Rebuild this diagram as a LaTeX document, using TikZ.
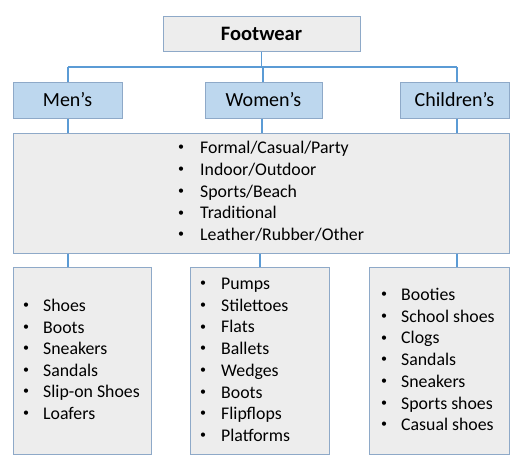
\documentclass[tikz,border=0pt]{standalone}
\usepackage{fontspec}
\setmainfont{Carlito}
\definecolor{lineblue}{HTML}{5B9BD5}
\definecolor{boxedge}{HTML}{8EA9C8}
\definecolor{boxgray}{HTML}{EDEDED}
\definecolor{boxblue}{HTML}{BDD7EE}
\begin{document}
\begin{tikzpicture}[x=1pt,y=-1pt,
  graybox/.style={draw=boxedge,fill=boxgray,line width=1pt,inner sep=0pt},
  bluebox/.style={draw=boxedge,fill=boxblue,line width=1pt,inner sep=0pt},
  conn/.style={draw=lineblue,line width=1.8pt},
  item/.style={anchor=base west,inner sep=0pt,font=\fontsize{17.8}{21}\selectfont},
  bul/.style={anchor=center,inner sep=0pt,font=\fontsize{12}{14}\selectfont}]
\useasboundingbox (0,0) rectangle (522,466);
% boxes
\node[graybox,minimum width=197pt,minimum height=35pt,font=\fontsize{20.5}{24}\selectfont\bfseries] (top) at (261.5,33.5) {Footwear};
\node[bluebox,minimum width=109pt,minimum height=36pt,font=\fontsize{20}{24}\selectfont] (men) at (67.5,100) {Men’s};
\node[bluebox,minimum width=117pt,minimum height=36pt,font=\fontsize{20}{24}\selectfont] (women) at (263.5,100) {Women’s};
\node[bluebox,minimum width=109pt,minimum height=36pt,font=\fontsize{20}{24}\selectfont] (child) at (454.5,100) {Children’s};
\node[graybox,minimum width=496pt,minimum height=120pt] (mid) at (261,193) {};
\node[graybox,minimum width=138pt,minimum height=187pt] (bmen) at (82,360.5) {};
\node[graybox,minimum width=139pt,minimum height=187pt] (bwomen) at (259.5,360.5) {};
\node[graybox,minimum width=140pt,minimum height=187pt] (bchild) at (439,360.5) {};
% connectors
\coordinate (hl) at (68,67);
\coordinate (hr) at (457,67);
\draw[conn] (top.south) -- (top.south |- hl);
\draw[conn] (hl) -- (hr);
\draw[conn] (hl) -- (men.north -| hl);
\draw[conn] (263,67) -- (women.north -| 263,0);
\draw[conn] (hr) -- (child.north -| hr);
\draw[conn] (men.south -| hl) -- (mid.north -| hl);
\draw[conn] (women.south -| 262,0) -- (mid.north -| 262,0);
\draw[conn] (child.south -| hr) -- (mid.north -| hr);
\draw[conn] (mid.south -| hl) -- (bmen.north -| hl);
\draw[conn] (mid.south -| 260,0) -- (bwomen.north -| 260,0);
\draw[conn] (mid.south -| hr) -- (bchild.north -| hr);
% middle list
\foreach \t [count=\i] in {Formal/Casual/Party,Indoor/Outdoor,Sports/Beach,Traditional,Leather/Rubber/Other}{
  \node[bul] (mb\i) at (181,{148.2+21.7*(\i-1)}) {•};
  \node[item] (mt\i) at (200,{153.7+21.7*(\i-1)}) {\t};
}
% men list
\foreach \t [count=\i] in {Shoes,Boots,Sneakers,Sandals,Slip-on Shoes,Loafers}{
  \node[bul] (ab\i) at (26,{306+21.5*(\i-1)}) {•};
  \node[item] (at\i) at (43,{311.5+21.5*(\i-1)}) {\t};
}
% women list
\foreach \t [count=\i] in {Pumps,Stilettoes,Flats,Ballets,Wedges,Boots,Flipflops,Platforms}{
  \node[bul] (wb\i) at (203,{284+21.7*(\i-1)}) {•};
  \node[item] (wt\i) at (221,{289.5+21.7*(\i-1)}) {\t};
}
% children list
\foreach \t [count=\i] in {Booties,School shoes,Clogs,Sandals,Sneakers,Sports shoes,Casual shoes}{
  \node[bul] (cb\i) at (384,{295+21.7*(\i-1)}) {•};
  \node[item] (ct\i) at (401,{300.5+21.7*(\i-1)}) {\t};
}
\end{tikzpicture}
\end{document}
